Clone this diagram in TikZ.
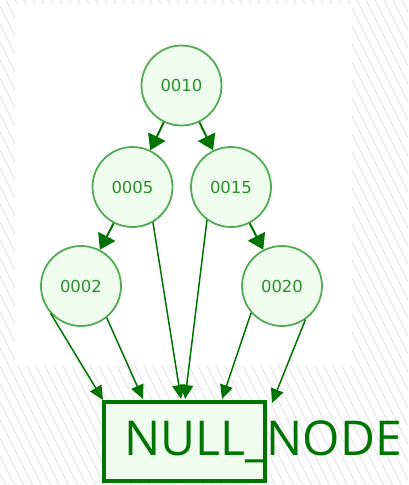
\documentclass[tikz,border=0pt]{standalone}
\usepackage{fontspec}
\newfontfamily\digitfont{DejaVu Sans}
\newfontfamily\labelfont{Open Sans}
\usetikzlibrary{arrows.meta}
\definecolor{edgegreen}{HTML}{007400}
\definecolor{ringgreen}{HTML}{55AA55}
\definecolor{txtgreen}{HTML}{2E8F2E}
\definecolor{nodefill}{HTML}{EEFDEE}
\definecolor{hatch}{HTML}{EAEAEA}
\tikzset{
  treenode/.style={circle, draw=ringgreen, line width=1.8pt, fill=nodefill,
    minimum size=80pt, inner sep=0pt, text=txtgreen, font=\digitfont\fontsize{16.5}{16.5}\selectfont},
  nullbox/.style={rectangle, draw=edgegreen, line width=4pt, fill=nodefill,
    minimum width=161pt, minimum height=79pt, inner sep=0pt},
  treeedge/.style={draw=edgegreen, line width=2pt, -{Triangle[length=15pt,width=19pt]}},
  nulledge/.style={draw=edgegreen, line width=1.5pt, -{Triangle[length=14pt,width=13pt]}}
}
\begin{document}
\begin{tikzpicture}[x=1pt,y=-1pt]
\useasboundingbox (0,0) rectangle (408,485);
% background hatch
\begin{scope}
\clip (0,0) rectangle (408,485);
\foreach \i in {-300,-291,...,420} {
  \draw[hatch, line width=1.2pt] (\i,0) -- ++(242.5,485);
}
\fill[white] (15,4) rectangle (352,365);
\end{scope}
% tree nodes
\node[treenode] (n10) at (181.5,85.5) {0010};
\node[treenode] (n5) at (132.5,187) {0005};
\node[treenode] (n15) at (231,187) {0015};
\node[treenode] (n2) at (81,286) {0002};
\node[treenode] (n20) at (282,286) {0020};
% null node
\node[nullbox] (null) at (184.5,441.5) {};
\node[anchor=base west, inner sep=0pt, text=edgegreen, font=\labelfont\fontsize{48}{48}\selectfont] (nulltext) at (124,455) {NULL\_NODE};
% arrow targets on the null node
\coordinate (t1) at (103,400);
\coordinate (t2) at (143,399);
\coordinate (t3) at (181,399);
\coordinate (t4) at (185,399);
\coordinate (t5) at (222,399);
\coordinate (t6) at (272,403);
% tree edges
\draw[treeedge] (n10) -- (n5);
\draw[treeedge] (n10) -- (n15);
\draw[treeedge] (n5) -- (n2);
\draw[treeedge] (n15) -- (n20);
% null edges
\draw[nulledge] (n2.222) -- (t1);
\draw[nulledge] (n2.309) -- (t2);
\draw[nulledge] (n5.300) -- (t3);
\draw[nulledge] (n15.234) -- (t4);
\draw[nulledge] (n20.221) -- (t5);
\draw[nulledge] (n20.305) -- (t6);
\end{tikzpicture}
\end{document}
